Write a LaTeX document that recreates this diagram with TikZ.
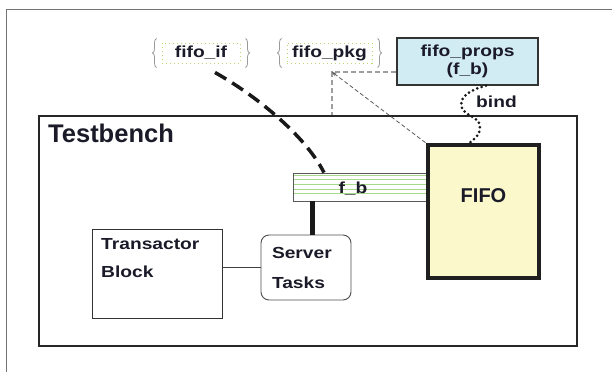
\documentclass[tikz,border=0pt]{standalone}
\usepackage{fontspec}
\setmainfont{Liberation Sans}
\newfontfamily\labw[FakeStretch=1.2]{Liberation Sans}
\usetikzlibrary{decorations.pathreplacing,arrows.meta,calc}
\definecolor{txt}{HTML}{1A1A28}
\definecolor{propsfill}{HTML}{D2ECF3}
\definecolor{fifofill}{HTML}{FBF8CB}
\definecolor{gline}{HTML}{A8D88A}
\definecolor{gdot}{HTML}{B8D870}
\definecolor{bracec}{HTML}{9A9A9A}
\begin{document}
\begin{tikzpicture}[x=1pt,y=-1pt,
  lab/.style={text=txt,font=\labw\bfseries\fontsize{16}{18}\selectfont,inner sep=0pt},
  pkgbox/.style={draw=gdot,line width=1pt,dash pattern=on 1pt off 3pt,minimum height=20pt,inner sep=0pt,text=txt,font=\labw\bfseries\fontsize{16}{18}\selectfont},
  bracest/.style={draw=bracec,line width=0.8pt,decorate,decoration={brace,amplitude=4pt}},
  propsbox/.style={draw=black!80,line width=1.2pt,fill=propsfill,minimum width=141pt,minimum height=47pt,inner sep=0pt,align=center,text=txt,font=\labw\bfseries\fontsize{16}{18.5}\selectfont},
  tbbox/.style={draw=black!85,line width=2pt,minimum width=538pt,minimum height=230pt,inner sep=0pt},
  fifobox/.style={draw=black!88,line width=3.5pt,fill=fifofill,minimum width=111pt,minimum height=133pt,inner sep=0pt},
  barbox/.style={draw=black!65,line width=0.8pt,fill=white,minimum width=135pt,minimum height=28pt,inner sep=0pt,
    path picture={\foreach \d in {2,6,11,16,20}{\draw[gline,line width=0.9pt] ([yshift=-\d pt]path picture bounding box.north west) -- ([yshift=-\d pt]path picture bounding box.north east);}}},
  srvbox/.style={draw=black!70,line width=0.9pt,rounded corners=8pt,minimum width=90pt,minimum height=65pt,inner sep=0pt,text width=68pt,align=left,text=txt,font=\labw\bfseries\fontsize{16}{30}\selectfont},
  trbox/.style={draw=black!80,line width=1pt,minimum width=130pt,minimum height=89pt,inner sep=0pt},
  heavydash/.style={line width=3.5pt,dash pattern=on 13pt off 7pt,black!90},
  graydash/.style={line width=1.5pt,dash pattern=on 5pt off 3pt,black!38},
  thindash/.style={line width=0.8pt,dash pattern=on 4pt off 2.5pt,black!65},
  bindst/.style={line width=3pt,line cap=round,dash pattern=on 0pt off 4.6pt,black!90},
  plain/.style={line width=1pt,black!75}
]
\useasboundingbox (0,0) rectangle (612,372);
% outer frame
\draw[black!55,line width=1.8pt] (6.5,372) -- (6.5,9.5) -- (612,9.5);

% top items
\node[pkgbox,minimum width=78pt] (ifb) at (201,53) {fifo\_if};
\draw[bracest] ($(ifb.south west)+(-5,4)$) -- ($(ifb.north west)+(-5,-4)$);
\draw[bracest] ($(ifb.north east)+(5,-4)$) -- ($(ifb.south east)+(5,4)$);
\node[pkgbox,minimum width=85pt] (pkb) at (329.5,53) {fifo\_pkg};
\draw[bracest] ($(pkb.south west)+(-5,4)$) -- ($(pkb.north west)+(-5,-4)$);
\draw[bracest] ($(pkb.north east)+(5,-4)$) -- ($(pkb.south east)+(5,4)$);
\node[propsbox] (props) at (467.5,61.5) {fifo\_props\\(f\_b)};

% testbench
\node[tbbox] (tb) at (308,231) {};
\node[anchor=base west,inner sep=0pt,text=txt,font=\bfseries\fontsize{25.5}{28}\selectfont] (tbl) at (48,142) {Testbench};

% bar and FIFO
\node[barbox] (bar) at (360.5,187) {};
\node[lab,anchor=base] (barl) at (353,193) {f\_b};
\node[fifobox] (fifo) at (483.5,211.5) {};
\node[anchor=base,inner sep=0pt,text=txt,font=\bfseries\fontsize{20}{22}\selectfont] (fifol) at (483.5,202) {FIFO};

% server and transactor
\node[srvbox] (srv) at (306,267.5) {Server\\Tasks};
\node[trbox] (tr) at (157,273.5) {};
\node[lab,anchor=north west,align=left,font=\labw\bfseries\fontsize{16}{28}\selectfont] (trl) at (101,238) {Transactor\\Block};

% connectors
\coordinate (gc) at (332,72);
\draw[graydash] ([yshift=-10.5pt]props.west) -- (gc) -- (gc |- tb.north);
\draw[thindash,{Stealth[length=4.5pt,width=3.5pt]}-] (gc) -- (fifo.north west);
\draw[heavydash] ($(ifb.south)+(14,9)$) .. controls (255,95) and (305,135) .. ([xshift=-36.5pt]bar.north);
\coordinate (b1) at (462,108);
\coordinate (b2) at (480,128);
\draw[bindst] ([xshift=18.5pt]props.south) .. controls (470,90) and (458,97) .. (b1) .. controls (466,117) and (481,117) .. (b2) .. controls (480,134) and (475,139) .. ([xshift=-14.5pt]fifo.north);
\node[lab,anchor=base west] (bindl) at (476,107) {bind};
\draw[line width=5pt,black!90] ([xshift=6pt]srv.north) -- ([xshift=6pt]srv.north |- bar.south);
\draw[plain] (srv.west) -- (srv.west -| tr.east);
\end{tikzpicture}
\end{document}
